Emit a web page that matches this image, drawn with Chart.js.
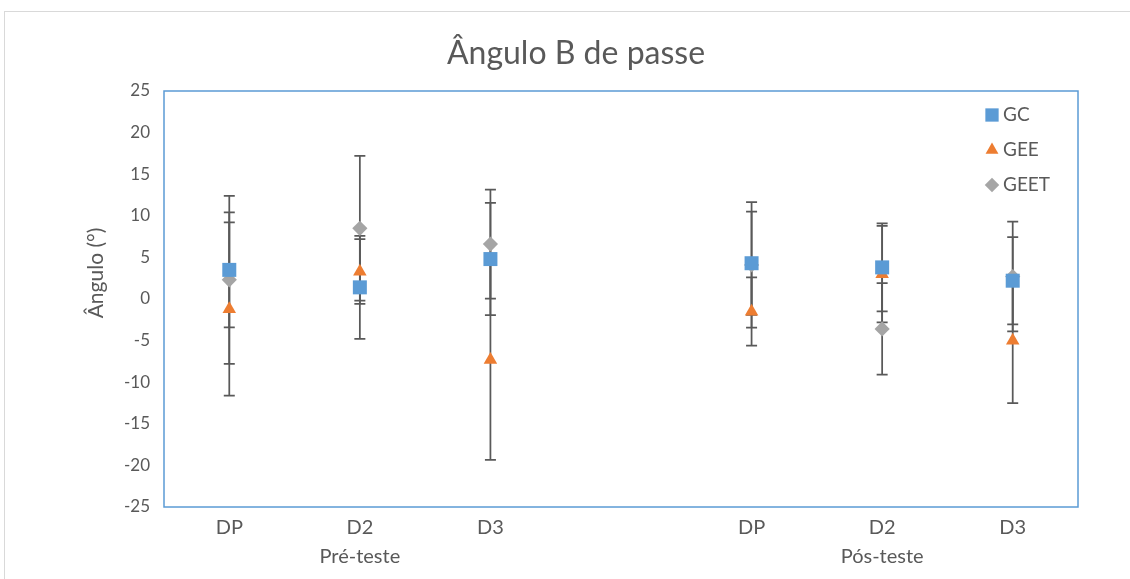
<!DOCTYPE html>
<html><head><meta charset="utf-8">
<script src="https://cdn.jsdelivr.net/npm/chart.js@4"></script>
<style>html,body{margin:0;padding:0;background:#fff}#wrap{width:1130px;height:579px;position:relative}</style>
</head><body><div id="wrap"><canvas id="c" width="1130" height="579"></canvas></div>
<script>
const chartTitle = 'Ângulo B de passe';
const yAxisTitle = 'Ângulo (°)';
const categories = ['DP', 'D2', 'D3', '', 'DP', 'D2', 'D3'];
const groupLabels = ['', 'Pré-teste', '', '', '', 'Pós-teste', ''];
const yMin = -25, yMax = 25, yStep = 5;
const seriesNames = ['GC', 'GEE', 'GEET'];
const gcValues = [3.5, 1.4, 4.8, null, 4.3, 3.8, 2.2];
const gcErrors = [6.9, 6.2, 6.75, null, 6.2, 5.3, 5.25];
const geeValues = [-1.2, 3.3, -7.3, null, -1.5, 3.0, -5.0];
const geeErrors = [10.4, 3.9, 12.05, null, 4.1, 5.8, 7.5];
const geetValues = [2.3, 8.5, 6.6, null, 4.1, -3.6, 2.7];
const geetErrors = [10.1, 8.7, 6.55, null, 7.55, 5.5, 6.6];

const FONT = 'Lato, "Open Sans", sans-serif';
const TXT = '#595959';
const labels = categories.map((c, i) => [c, groupLabels[i]]);

const styles = [
  { color: '#5B9BD5', pointStyle: 'rect', radius: 9.9 },
  { color: '#ED7D31', pointStyle: 'triangle', radius: 7.8 },
  { color: '#A5A5A5', pointStyle: 'rectRot', radius: 7.6 }
];
const values = [gcValues, geeValues, geetValues];
const errors = [gcErrors, geeErrors, geetErrors];

const datasets = seriesNames.map((n, i) => ({
  label: n,
  data: values[i],
  errors: errors[i],
  showLine: false,
  pointStyle: styles[i].pointStyle,
  pointRadius: styles[i].radius,
  pointHoverRadius: styles[i].radius,
  pointBackgroundColor: styles[i].color,
  pointBorderColor: styles[i].color,
  pointBorderWidth: 0,
  backgroundColor: styles[i].color,
  borderColor: styles[i].color
}));

const decor = {
  id: 'decor',
  beforeDraw(chart) {
    const ctx = chart.ctx;
    ctx.save();
    ctx.fillStyle = '#fff';
    ctx.fillRect(0, 0, chart.width, chart.height);
    ctx.strokeStyle = '#D9D9D9';
    ctx.lineWidth = 1;
    ctx.strokeRect(4.5, 11.5, chart.width + 20, chart.height + 20);
    ctx.restore();
  },
  beforeDatasetsDraw(chart) {
    const ctx = chart.ctx;
    const xs = chart.scales.x, ys = chart.scales.y;
    ctx.save();
    ctx.strokeStyle = '#595959';
    ctx.lineWidth = 1.75;
    chart.data.datasets.forEach(ds => {
      ds.data.forEach((v, j) => {
        const e = ds.errors[j];
        if (v === null || e === null) return;
        const x = xs.getPixelForValue(j);
        const yt = ys.getPixelForValue(v + e);
        const yb = ys.getPixelForValue(v - e);
        ctx.beginPath();
        ctx.moveTo(x, yt); ctx.lineTo(x, yb);
        ctx.moveTo(x - 5.5, yt); ctx.lineTo(x + 5.5, yt);
        ctx.moveTo(x - 5.5, yb); ctx.lineTo(x + 5.5, yb);
        ctx.stroke();
      });
    });
    ctx.restore();
  },
  afterDraw(chart) {
    const ctx = chart.ctx;
    const a = chart.chartArea;
    ctx.save();
    ctx.strokeStyle = '#5B9BD5';
    ctx.lineWidth = 1.5;
    ctx.strokeRect(a.left, a.top, a.right - a.left, a.bottom - a.top);
    // y axis title
    ctx.fillStyle = TXT;
    ctx.font = '21px ' + FONT;
    ctx.textAlign = 'center';
    ctx.textBaseline = 'middle';
    ctx.translate(96, 273);
    ctx.rotate(-Math.PI / 2);
    ctx.fillText(yAxisTitle, 0, 0);
    ctx.restore();
    // legend
    ctx.save();
    chart.data.datasets.forEach((ds, i) => {
      const y = 115 + 35 * i;
      ctx.fillStyle = styles[i].color;
      ctx.strokeStyle = styles[i].color;
      Chart.helpers.drawPoint(ctx, { pointStyle: styles[i].pointStyle, radius: styles[i].radius * 0.95, rotation: 0, borderWidth: 0 }, 992, y);
      ctx.fillStyle = TXT;
      ctx.font = '19px ' + FONT;
      ctx.textAlign = 'left';
      ctx.textBaseline = 'middle';
      ctx.fillText(ds.label, 1003, y);
    });
    ctx.restore();
  }
};

new Chart(document.getElementById('c'), {
  type: 'line',
  data: { labels: labels, datasets: datasets },
  options: {
    responsive: false,
    animation: false,
    devicePixelRatio: 1,
    layout: { padding: { top: 0, left: 74, right: 52, bottom: 0 } },
    plugins: {
      legend: { display: false },
      tooltip: { enabled: false },
      title: {
        display: true, text: chartTitle, color: TXT,
        font: { family: FONT, size: 32, weight: 'normal', lineHeight: 1.2 },
        padding: { top: 34, bottom: 18.6 }
      }
    },
    scales: {
      x: {
        type: 'category', offset: true,
        grid: { display: false, drawTicks: false },
        border: { display: false },
        ticks: { color: TXT, font: { family: FONT, size: 20, lineHeight: '29px' }, padding: 6.5, maxRotation: 0, autoSkip: false },
        afterFit: s => { s.height = 72; }
      },
      y: {
        min: yMin, max: yMax,
        grid: { display: false, drawTicks: false },
        border: { display: false },
        ticks: { stepSize: yStep, color: TXT, font: { family: FONT, size: 17 }, padding: 14 },
        afterFit: s => { s.width = 90; }
      }
    }
  },
  plugins: [decor]
});
</script></body></html>
